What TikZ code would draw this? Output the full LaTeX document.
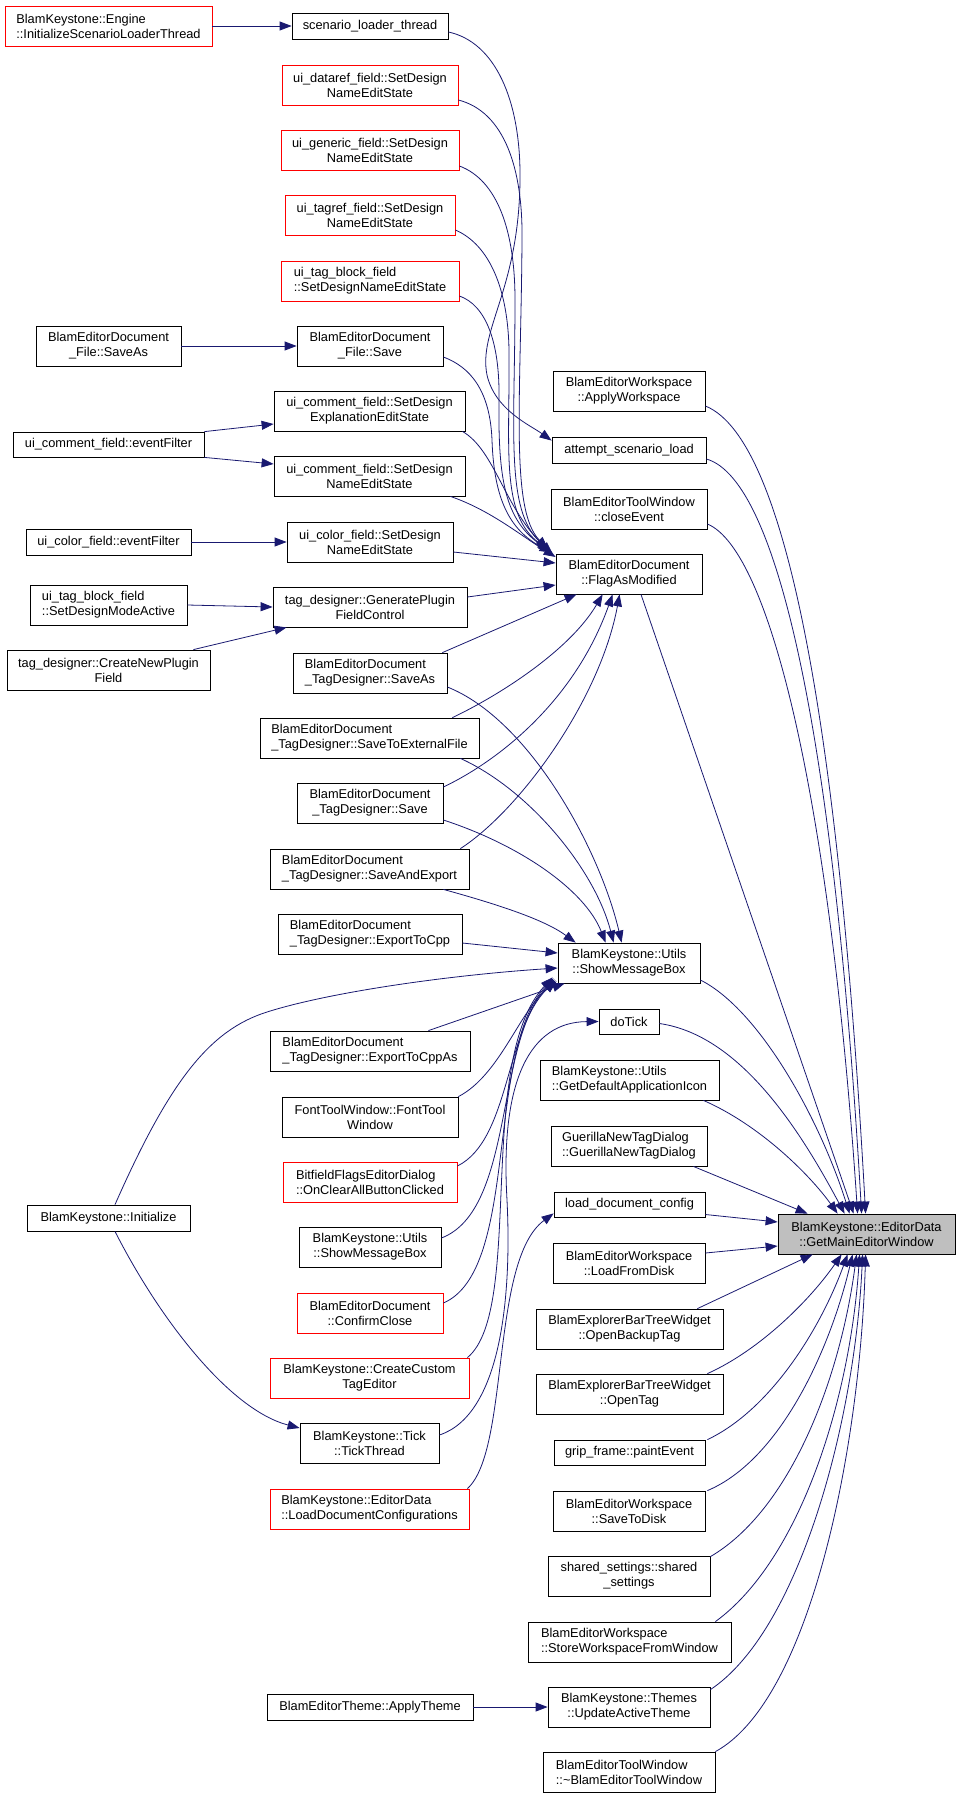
\documentclass[tikz,border=0pt]{standalone}
\usepackage{fontspec}
\setmainfont{Liberation Sans}
\usetikzlibrary{arrows.meta,calc}
\definecolor{edgeblue}{HTML}{191970}
\definecolor{nodered}{HTML}{FF0000}
\definecolor{maingrey}{HTML}{BFBFBF}
\newcommand\nodefont{\fontsize{12.8pt}{15pt}\selectfont}
\begin{document}
\begin{tikzpicture}[x=1pt,y=-1pt,
 box/.style={draw=black, line width=0.8pt, fill=white, inner sep=0pt, font=\nodefont, align=center, minimum height=40pt},
 redbox/.style={box, draw=nodered},
 edge/.style={draw=edgeblue, line width=0.8pt, -{Triangle[length=12pt,width=9pt]}},
]
\useasboundingbox (0,0) rectangle (960,1799);
% rank 3/2 nodes
\node[redbox, align=left, minimum width=207pt] (eng) at (108.5,26) {BlamKeystone::Engine\\::InitializeScenarioLoaderThread};
\node[box, minimum width=156pt, minimum height=26pt] (slt) at (370,26) {scenario\_loader\_thread};
\node[redbox, minimum width=176pt] (udf) at (370,85) {ui\_dataref\_field::SetDesign\\NameEditState};
\node[redbox, minimum width=178pt] (ugf) at (370,150) {ui\_generic\_field::SetDesign\\NameEditState};
\node[redbox, minimum width=170pt] (utf) at (370,215) {ui\_tagref\_field::SetDesign\\NameEditState};
\node[redbox, align=left, minimum width=178pt] (utbf) at (370,281) {ui\_tag\_block\_field\\::SetDesignNameEditState};
\node[box, minimum width=145pt] (fsa) at (108.5,346) {BlamEditorDocument\\\_File::SaveAs};
\node[box, minimum width=146pt] (fs) at (370,346) {BlamEditorDocument\\\_File::Save};
\node[box, minimum width=191pt] (ucfe) at (369.5,411) {ui\_comment\_field::SetDesign\\ExplanationEditState};
\node[box, minimum width=191pt, minimum height=25pt] (ucef) at (108.5,444.5) {ui\_comment\_field::eventFilter};
\node[box, minimum width=191pt] (ucfn) at (369.5,476) {ui\_comment\_field::SetDesign\\NameEditState};
\node[box, minimum width=165pt, minimum height=26pt] (ucoe) at (108.5,542) {ui\_color\_field::eventFilter};
\node[box, minimum width=166pt] (ucon) at (370,542) {ui\_color\_field::SetDesign\\NameEditState};
\node[box, align=left, minimum width=157pt] (utbm) at (108.5,605) {ui\_tag\_block\_field\\::SetDesignModeActive};
\node[box, minimum width=194pt] (gpfc) at (370,607) {tag\_designer::GeneratePlugin\\FieldControl};
\node[box, minimum width=203pt] (cnpf) at (108.5,670) {tag\_designer::CreateNewPlugin\\Field};
\node[box, align=left, minimum width=154pt] (tdsa) at (370,673) {BlamEditorDocument\\\_TagDesigner::SaveAs};
\node[box, align=left, minimum width=219pt] (tdse) at (369.5,738) {BlamEditorDocument\\\_TagDesigner::SaveToExternalFile};
\node[box, minimum width=146pt] (tds) at (370,803) {BlamEditorDocument\\\_TagDesigner::Save};
\node[box, align=left, minimum width=199pt] (tdsx) at (369.5,869) {BlamEditorDocument\\\_TagDesigner::SaveAndExport};
\node[box, align=left, minimum width=184pt] (tdec) at (370,934) {BlamEditorDocument\\\_TagDesigner::ExportToCpp};
\node[box, align=left, minimum width=200pt] (tdeca) at (370,1051) {BlamEditorDocument\\\_TagDesigner::ExportToCppAs};
\node[box, minimum width=176pt] (ftw) at (370,1117) {FontToolWindow::FontTool\\Window};
\node[redbox, align=left, minimum width=174pt] (bfe) at (370,1182) {BitfieldFlagsEditorDialog\\::OnClearAllButtonClicked};
\node[box, minimum width=142pt] (usmb2) at (370,1247) {BlamKeystone::Utils\\::ShowMessageBox};
\node[box, minimum width=163pt, minimum height=26pt] (init) at (108.5,1218) {BlamKeystone::Initialize};
\node[redbox, minimum width=146pt] (cc) at (370,1313) {BlamEditorDocument\\::ConfirmClose};
\node[redbox, minimum width=199pt] (ccte) at (369.5,1378) {BlamKeystone::CreateCustom\\TagEditor};
\node[box, minimum width=139pt] (tt) at (369.5,1443) {BlamKeystone::Tick\\::TickThread};
\node[redbox, align=left, minimum width=199pt] (ldc) at (369.5,1509) {BlamKeystone::EditorData\\::LoadDocumentConfigurations};
\node[box, minimum width=206pt, minimum height=26pt] (apth) at (370,1707) {BlamEditorTheme::ApplyTheme};
% rank 1 nodes
\node[box, minimum width=152pt] (aw) at (629,391) {BlamEditorWorkspace\\::ApplyWorkspace};
\node[box, minimum width=154pt, minimum height=26pt] (asl) at (629,450) {attempt\_scenario\_load};
\node[box, minimum width=156pt] (ce) at (629,509) {BlamEditorToolWindow\\::closeEvent};
\node[box, minimum width=146pt] (fam) at (629,574) {BlamEditorDocument\\::FlagAsModified};
\node[box, minimum width=142pt] (smb) at (629,963) {BlamKeystone::Utils\\::ShowMessageBox};
\node[box, minimum width=60pt, minimum height=25pt] (dt) at (629,1021.5) {doTick};
\node[box, align=left, minimum width=179pt] (gdai) at (629.5,1080) {BlamKeystone::Utils\\::GetDefaultApplicationIcon};
\node[box, align=left, minimum width=156pt] (gntd) at (629,1146) {GuerillaNewTagDialog\\::GuerillaNewTagDialog};
\node[box, minimum width=151pt, minimum height=25pt] (lcfg) at (629.5,1204.5) {load\_document\_config};
\node[box, minimum width=152pt] (lfd) at (629,1263) {BlamEditorWorkspace\\::LoadFromDisk};
\node[box, minimum width=187pt] (obt) at (629.5,1329) {BlamExplorerBarTreeWidget\\::OpenBackupTag};
\node[box, minimum width=187pt] (ot) at (629.5,1394) {BlamExplorerBarTreeWidget\\::OpenTag};
\node[box, minimum width=151pt, minimum height=25pt] (gfp) at (629.5,1452.5) {grip\_frame::paintEvent};
\node[box, minimum width=152pt] (std) at (629,1511) {BlamEditorWorkspace\\::SaveToDisk};
\node[box, minimum width=162pt] (ss) at (629,1576) {shared\_settings::shared\\\_settings};
\node[box, align=left, minimum width=203pt] (swfw) at (629.5,1642) {BlamEditorWorkspace\\::StoreWorkspaceFromWindow};
\node[box, minimum width=162pt] (uat) at (629,1707) {BlamKeystone::Themes\\::UpdateActiveTheme};
\node[box, align=left, minimum width=172pt] (tw) at (629,1772) {BlamEditorToolWindow\\::\textasciitilde BlamEditorToolWindow};
\node[box, fill=maingrey, minimum width=177pt] (main) at (866.5,1234) {BlamKeystone::EditorData\\::GetMainEditorWindow};

% left-side short edges
\draw[edge] (eng.east) -- (slt.west);
\draw[edge] (fsa.east) -- (fs.west);
\draw[edge] (ucef.north east) -- ($(ucfe.west)+(0,13)$);
\draw[edge] (ucef.south east) -- ($(ucfn.west)+(0,-12)$);
\draw[edge] (ucoe.east) -- (ucon.west);
\draw[edge] (utbm.east) -- (gpfc.west);
\draw[edge] ($(cnpf.north east)+(-17,0)$) -- ($(gpfc.south west)+(14,0)$);
\draw[edge] ($(init.south)+(6.5,0)$) .. controls (160,1320) and (230,1410) .. ($(tt.west)+(0,-15)$);
\draw[edge] (apth.east) -- (uat.west);

% scenario loader
\draw[edge] ($(slt.east)+(0,6)$) .. controls (495,42) and (521,100) .. (520,180) .. controls (519,290) and (478,330) .. (487,375) .. controls (495,410) and (530,425) .. ($(asl.north west)+(0,4)$);

% to FlagAsModified
\draw[edge] ($(udf.east)+(0,15)$) .. controls (505,112) and (523,170) .. (522,240) .. controls (521,400) and (510,510) .. ($(fam.north west)+(-8,-5)$);
\draw[edge] ($(ugf.east)+(0,16)$) .. controls (497,180) and (515,230) .. (515,300) .. controls (515,430) and (505,510) .. ($(fam.north west)+(-7,-4)$);
\draw[edge] ($(utf.east)+(0,15)$) .. controls (490,245) and (508,290) .. (509,350) .. controls (510,450) and (500,515) .. ($(fam.north west)+(-6,-3)$);
\draw[edge] ($(utbf.east)+(0,15)$) .. controls (485,305) and (500,340) .. (499,400) .. controls (498,480) and (505,520) .. ($(fam.north west)+(-5,-2)$);
\draw[edge] ($(fs.east)+(0,11)$) .. controls (470,367) and (490,390) .. (492,440) .. controls (494,500) and (510,530) .. ($(fam.north west)+(-4,-1)$);
\draw[edge] ($(ucfe.south east)+(-3,0)$) .. controls (495,450) and (505,510) .. ($(fam.north west)+(-3,0)$);
\draw[edge] ($(ucfn.south east)+(-15,0)$) .. controls (490,510) and (520,535) .. ($(fam.west)+(0,-17)$);
\draw[edge] ($(ucon.east)+(0,10)$) -- ($(fam.west)+(0,-11)$);
\draw[edge] ($(gpfc.east)+(0,-10)$) -- ($(fam.west)+(0,11)$);
\draw[edge] ($(tdsa.north east)+(-5,0)$) -- ($(fam.south west)+(21,0)$);
\draw[edge] ($(tdse.north east)+(-27,0)$) .. controls (500,695) and (570,650) .. ($(fam.south west)+(47,0)$);
\draw[edge] ($(tds.east)+(0,-16)$) .. controls (500,760) and (575,700) .. ($(fam.south west)+(57,0)$);
\draw[edge] ($(tdsx.north east)+(-9,0)$) .. controls (520,810) and (600,700) .. ($(fam.south west)+(64,0)$);

% to ShowMessageBox
\draw[edge] ($(tdsa.east)+(0,14)$) .. controls (530,720) and (600,850) .. ($(smb.north west)+(64,0)$);
\draw[edge] ($(tdse.south east)+(-19,0)$) .. controls (530,790) and (595,870) .. ($(smb.north west)+(56,0)$);
\draw[edge] ($(tds.east)+(0,17)$) .. controls (520,845) and (585,890) .. ($(smb.north west)+(48,0)$);
\draw[edge] ($(tdsx.south east)+(-26,0)$) .. controls (500,905) and (545,920) .. ($(smb.north west)+(18,0)$);
\draw[edge] ($(tdec.east)+(0,9)$) -- ($(smb.west)+(0,-10)$);
\draw[edge] ($(init.north)+(6.5,0)$) .. controls (170,1080) and (210,1030) .. (267,1012) .. controls (330,992) and (450,975) .. ($(smb.west)+(0,5)$);
\draw[edge] ($(tdeca.north east)+(-42,0)$) -- ($(smb.south west)+(7,0)$);
\draw[edge] (ftw.north east) .. controls (500,1075) and (520,1010) .. ($(smb.south west)+(-1,-2)$);
\draw[edge] ($(bfe.east)+(0,-16)$) .. controls (510,1140) and (505,1030) .. ($(smb.south west)+(-2,-3)$);
\draw[edge] ($(usmb2.east)+(0,-9)$) .. controls (515,1210) and (495,1040) .. ($(smb.south west)+(-3,-4)$);
\draw[edge] ($(cc.east)+(0,-10)$) .. controls (520,1270) and (485,1050) .. ($(smb.south west)+(-4,-5)$);
\draw[edge] ($(ccte.north east)+(-2,0)$) .. controls (525,1310) and (475,1060) .. ($(smb.south west)+(-5,-6)$);
\draw[edge] ($(tt.east)+(0,-8)$) .. controls (500,1415) and (512,1300) .. (507,1200) .. controls (500,1080) and (530,1022) .. (dt.west);
\draw[edge] ($(ldc.north east)+(-2,0)$) .. controls (510,1450) and (490,1260) .. ($(lcfg.south west)+(0,-4)$);

% to GetMainEditorWindow
\draw[edge] ($(aw.east)+(0,15)$) .. controls (790,440) and (840,750) .. ($(main.north west)+(88,0)$);
\draw[edge] ($(asl.east)+(0,9)$) .. controls (780,480) and (835,750) .. ($(main.north west)+(84,0)$);
\draw[edge] ($(ce.east)+(0,15)$) .. controls (770,550) and (830,800) .. ($(main.north west)+(80,0)$);
\draw[edge] ($(fam.south)+(12,0)$) -- ($(main.north west)+(76,0)$);
\draw[edge] ($(smb.east)+(0,17)$) .. controls (760,1010) and (820,1120) .. ($(main.north west)+(72,0)$);
\draw[edge] ($(dt.east)+(0,2)$) .. controls (740,1035) and (800,1130) .. ($(main.north west)+(67,0)$);
\draw[edge] ($(gdai.south east)+(-16,0)$) .. controls (760,1125) and (810,1175) .. ($(main.north west)+(60,0)$);
\draw[edge] ($(gntd.south east)+(-14,0)$) -- ($(main.north west)+(30,0)$);
\draw[edge] ($(lcfg.east)+(0,10)$) -- ($(main.west)+(0,-12)$);
\draw[edge] ($(lfd.east)+(0,-10)$) -- ($(main.west)+(0,12)$);
\draw[edge] ($(obt.north east)+(-26,0)$) -- ($(main.south west)+(35,0)$);
\draw[edge] ($(ot.north east)+(-16,0)$) .. controls (760,1350) and (810,1300) .. ($(main.south west)+(64,0)$);
\draw[edge] ($(gfp.north east)+(2,0)$) .. controls (770,1410) and (820,1330) .. ($(main.south west)+(70,0)$);
\draw[edge] ($(std.north east)+(2,0)$) .. controls (780,1460) and (830,1350) .. ($(main.south west)+(75,0)$);
\draw[edge] ($(ss.north east)+(0,1)$) .. controls (790,1510) and (840,1380) .. ($(main.south west)+(79,0)$);
\draw[edge] ($(swfw.north east)+(-16,0)$) .. controls (800,1560) and (850,1400) .. ($(main.south west)+(82,0)$);
\draw[edge] ($(uat.north east)+(0,3)$) .. controls (800,1630) and (855,1420) .. ($(main.south west)+(85,0)$);
\draw[edge] (tw.north east) .. controls (810,1700) and (860,1450) .. ($(main.south west)+(88,0)$);
\end{tikzpicture}
\end{document}
